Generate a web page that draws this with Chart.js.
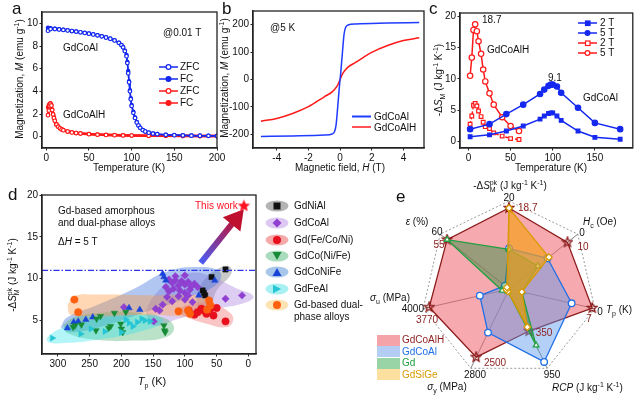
<!DOCTYPE html>
<html>
<head>
<meta charset="utf-8">
<script src="https://cdn.jsdelivr.net/npm/chart.js@4.4.1/dist/chart.umd.min.js"></script>
<style>
body{margin:0;background:#fff}
#fig{position:relative;width:638px;height:398px;overflow:hidden;font-family:'Liberation Sans',Arial,sans-serif;font-size:10px;color:#111}
#fig canvas{position:absolute}
.t,.tc,.tr,.vt,.lt{position:absolute;white-space:nowrap;line-height:1}
.t{transform:translateY(-50%)}
.tc{transform:translate(-50%,-50%)}
.tr{transform:translate(-100%,-50%)}
.vt{transform:translate(-50%,-50%) rotate(-90deg)}
.lt{font-size:17px}
sup,sub{font-size:7px;line-height:0}
svg{position:absolute}
</style>
</head>
<body>
<div id="fig">
  <canvas id="ca" width="235" height="185" style="left:0;top:0"></canvas>
  <canvas id="cb" width="225" height="185" style="left:215px;top:0"></canvas>
  <canvas id="cc" width="218" height="185" style="left:420px;top:0"></canvas>
  <canvas id="cd" width="276" height="210" style="left:0;top:180px"></canvas>
  <canvas id="ce" width="188" height="188" style="left:415px;top:195px"></canvas>
  <div id="txt"></div>
</div>
<script>
// ---------- panel a: M-T curves ----------
const aTempBlue = [2, 5, 10, 15, 20, 25, 30, 35, 40, 45, 50, 55, 60, 65, 70, 75, 80, 85, 88, 90, 92, 94, 95, 96, 97, 98, 99, 100, 102, 104, 106, 108, 110, 113, 116, 120, 125, 130, 140, 150, 160, 170, 180, 190, 200];
const aBlueFC  = [9.62, 9.58, 9.53, 9.48, 9.43, 9.38, 9.33, 9.28, 9.22, 9.16, 9.1, 9.03, 8.95, 8.86, 8.76, 8.65, 8.5, 8.3, 8.1, 7.9, 7.6, 7.2, 6.6, 5.8, 4.9, 4.1, 3.4, 2.8, 2.2, 1.7, 1.3, 1.0, 0.8, 0.6, 0.46, 0.36, 0.28, 0.23, 0.17, 0.14, 0.12, 0.1, 0.09, 0.08, 0.07];
const aBlueZFC = [9.35, 9.5, 9.5, 9.46, 9.42, 9.37, 9.32, 9.27, 9.21, 9.15, 9.09, 9.02, 8.94, 8.85, 8.75, 8.64, 8.49, 8.28, 8.08, 7.88, 7.55, 7.1, 6.5, 5.6, 4.8, 4.0, 3.3, 2.7, 2.1, 1.65, 1.25, 0.98, 0.78, 0.58, 0.45, 0.35, 0.27, 0.22, 0.16, 0.13, 0.11, 0.09, 0.08, 0.07, 0.06];
const aTempRed = [2, 3, 4, 5, 6, 7, 8, 9, 10, 12, 14, 16, 18, 20, 25, 30, 35, 40, 50, 60, 70, 80, 90, 100, 120, 140, 160, 180, 200];
const aRedFC   = [2.6, 2.8, 2.9, 2.95, 2.8, 2.4, 2.0, 1.7, 1.45, 1.1, 0.9, 0.75, 0.65, 0.58, 0.46, 0.38, 0.33, 0.29, 0.23, 0.19, 0.16, 0.14, 0.12, 0.11, 0.09, 0.08, 0.07, 0.06, 0.06];
const aRedZFC  = [1.9, 2.3, 2.7, 2.9, 2.75, 2.35, 1.95, 1.65, 1.4, 1.08, 0.88, 0.74, 0.64, 0.57, 0.45, 0.37, 0.32, 0.28, 0.22, 0.18, 0.15, 0.13, 0.11, 0.1, 0.08, 0.07, 0.06, 0.05, 0.05];

// ---------- panel b: M-H loops at 5 K ----------
const bFieldBlue = [-5, -3, -1, -0.5, -0.35, -0.25, -0.15, -0.05, 0.05, 0.15, 0.25, 0.35, 0.5, 1, 3, 5];
const bBlue      = [-208, -206, -203, -199, -190, -165, -100, -30, 30, 100, 165, 190, 199, 203, 206, 208];
const bFieldRed  = [-5, -4, -3, -2, -1, -0.5, -0.2, -0.1, 0, 0.1, 0.2, 0.5, 1, 2, 3, 4, 5];
const bRed       = [-152, -142, -124, -99, -63, -45, -25, -14, 0, 14, 25, 45, 63, 99, 124, 142, 152];

// ---------- panel c: -dS_M vs T ----------
const cTempH = [2, 4, 6, 8, 10, 12, 15, 17.5, 20, 25, 30, 40, 50, 60];
const cH5T   = [10.5, 13.4, 17.8, 18.7, 17.6, 16.0, 14.0, 11.5, 9.6, 7.7, 5.9, 3.9, 2.5, 1.7];
const cH2T   = [2.8, 4.1, 5.8, 6.1, 5.7, 4.9, 4.0, 3.1, 2.4, 2.1, 1.4, 0.9, 0.5, 0.35];
const cTempA = [2, 25, 45, 65, 85, 90, 95, 98, 100, 105, 110, 130, 150, 180];
const cA5T   = [2.0, 2.8, 4.4, 5.9, 7.6, 8.3, 8.9, 9.1, 9.1, 8.8, 7.8, 5.4, 3.0, 2.0];
const cA2T   = [0.8, 1.1, 1.7, 2.5, 3.6, 4.1, 4.5, 4.6, 4.6, 4.1, 3.4, 1.7, 0.7, 0.4];

// ---------- panel d: literature comparison, [Tp, -dS] ----------
const dGdNiAl = [[36, 11.1], [58, 10.2], [72, 8.6], [70, 8.3], [68, 8.0], [66, 6.2]];
const dGdCoAl = [[125, 9.9], [120, 9.5], [115, 9.8], [110, 9.2], [105, 9.7], [100, 9.3], [95, 9.6], [90, 9.1], [85, 9.4], [80, 9.0], [130, 9.0], [125, 8.5], [118, 8.8], [108, 8.6], [100, 8.3], [92, 8.7], [128, 7.8], [120, 7.3], [110, 7.9], [100, 7.5], [95, 8.0], [135, 6.9], [140, 6.2], [146, 6.4], [149, 4.9], [196, 6.6], [115, 10.3], [100, 10.4], [36, 7.6], [10, 8.0], [88, 7.2]];
const dGdFeCoNi = [[94, 6.2], [85, 5.7], [80, 6.0], [74, 6.4], [70, 6.2], [66, 5.8], [60, 6.4], [55, 5.6], [50, 6.5], [36, 4.9]];
const dGdCoNiFe2 = [[276, 4.2], [273, 4.4], [263, 4.5], [239, 5.2], [240, 3.8], [233, 5.5], [220, 4.1], [217, 4.3], [211, 5.9], [201, 4.6], [200, 4.0], [198, 3.6], [193, 6.0], [133, 4.4], [132, 3.8], [131, 3.6]];
const dGdCoNiFe = [[285, 4.1], [275, 4.8], [268, 4.9], [256, 5.1], [245, 5.4], [188, 6.5], [171, 6.3], [135, 10.6], [133, 10.2], [130, 9.8], [53, 9.8], [78, 8.0]];
const dGdFeAl = [[309, 2.9], [264, 3.4], [248, 4.0], [226, 3.7], [200, 3.6], [193, 5.1], [188, 4.7], [182, 4.3], [175, 4.8], [168, 5.2], [163, 5.0], [155, 4.9]];
const dDual = [[274, 7.5], [268, 6.0], [110, 6.1], [92, 5.8], [95, 6.2], [62, 7.4], [60, 6.8], [65, 6.3]];
const dThisWork = [[7, 18.7]];
const dLimit = [[325, 11.0], [-12, 11.0]];
const dArrow = [[75, 11.9], [20, 17.1]];
// shaded regions (outline vertices)
const rgnGdNiAl = [[82, 8.0], [70, 9.8], [45, 11.3], [30, 11.5], [27, 10.6], [50, 8.6], [62, 6.3], [78, 6.2], [82, 8.0]];
const rgnGdCoAl = [[162, 6.0], [150, 7.8], [120, 9.9], [90, 10.7], [60, 10.3], [20, 8.9], [-8, 7.9], [10, 7.0], [60, 6.3], [110, 5.2], [150, 4.4], [162, 6.0]];
const rgnGdFeCoNi = [[112, 6.3], [95, 6.9], [60, 7.0], [30, 6.0], [24, 5.0], [35, 4.2], [70, 4.7], [100, 5.5], [112, 6.3]];
const rgnGdCoNiFe2 = [[292, 4.5], [270, 5.5], [220, 6.0], [170, 5.9], [130, 5.2], [117, 4.1], [130, 3.0], [180, 2.6], [240, 2.7], [285, 3.5], [292, 4.5]];
const rgnGdCoNiFe = [[296, 4.2], [285, 5.4], [240, 6.8], [180, 8.8], [130, 10.8], [80, 11.4], [45, 10.8], [50, 9.3], [100, 7.6], [170, 5.8], [230, 4.3], [280, 3.6], [296, 4.2]];
const rgnGdFeAl = [[318, 2.9], [300, 3.9], [250, 5.0], [190, 5.6], [145, 5.5], [135, 4.8], [170, 3.7], [230, 2.8], [290, 2.3], [315, 2.4], [318, 2.9]];
const rgnDual = [[285, 6.8], [275, 7.9], [240, 8.1], [150, 8.0], [80, 8.0], [55, 7.3], [60, 6.0], [90, 5.5], [150, 5.7], [240, 5.6], [280, 5.7], [285, 6.8]];

// ---------- panel e: radar, radius fraction per axis ----------
const eAxes = ['-ΔS', 'Hc', 'Tp', 'RCP', 'σy', 'σu', 'ε'];
const eGdCoAlH = [0.92, 0.85, 0.97, 0.53, 0.86, 0.93, 0.90];
const eGdCoAl  = [0.46, 0.56, 0.73, 0.92, 0.55, 0.34, 0.06];
const eGd      = [0.45, 0.42, 0.15, 0.71, 0.03, 0.08, 0.90];
const eGdSiGe  = [0.92, 0.58, 0.15, 0.48, 0.03, 0.03, 0.03];

Chart.defaults.font.family = "'Liberation Sans', Arial, sans-serif";
Chart.defaults.font.size = 10;
Chart.defaults.color = '#111';

const BLUE = '#1428f0', RED = '#ff1a1a';

const frame = {
    id: 'frame',
    afterDraw(chart) {
        const {ctx, chartArea: a} = chart;
        ctx.save();
        ctx.strokeStyle = '#222';
        ctx.lineWidth = 1.3;
        ctx.strokeRect(a.left, a.top, a.right - a.left, a.bottom - a.top);
        ctx.restore();
    }
};

function lin(min, max, step, size, extra) {
    return Object.assign({
        type: 'linear', min, max,
        afterBuildTicks: ax => {
            const t = [];
            for (let v = Math.ceil(min / step - 1e-9) * step; v <= max + 1e-9; v += step) t.push({value: Math.round(v * 1e6) / 1e6});
            ax.ticks = t;
        },
        afterFit: s => { if (s.isHorizontal()) s.height = size; else s.width = size; },
        grid: {drawOnChartArea: false, tickLength: 2.5, color: '#222', lineWidth: 1},
        border: {color: '#222', width: 1.3},
        ticks: {color: '#111', padding: 1.5, maxRotation: 0, autoSkip: false}
    }, extra || {});
}

function opts(x, y, padding) {
    return {
        responsive: false, animation: false, devicePixelRatio: 1,
        layout: {padding},
        plugins: {legend: {display: false}, tooltip: {enabled: false}},
        scales: {x, y}
    };
}

const xy = (xs, ys) => xs.map((v, i) => ({x: v, y: ys[i]}));
const pairs = arr => arr.map(p => ({x: p[0], y: p[1]}));

function series(data, color, extra) {
    return Object.assign({data, showLine: true, borderColor: color, pointBorderColor: color,
        pointBackgroundColor: color, borderWidth: 1.5, pointRadius: 2.2, pointBorderWidth: 1.2, tension: 0}, extra || {});
}

// a
new Chart(document.getElementById('ca'), {
    type: 'scatter',
    data: {datasets: [
        series(xy(aTempBlue, aBlueZFC), BLUE, {pointBackgroundColor: '#fff', pointRadius: 1.8}),
        series(xy(aTempBlue, aBlueFC), BLUE, {pointRadius: 1.6}),
        series(xy(aTempRed, aRedZFC), RED, {pointBackgroundColor: '#fff', borderWidth: 2.5, pointRadius: 1.8}),
        series(xy(aTempRed, aRedFC), RED, {borderWidth: 2.5, pointRadius: 1.6})
    ]},
    options: opts(lin(-5, 200, 50, 37), lin(-1, 11, 2, 42), {top: 12, right: 18}),
    plugins: [frame]
});

// b
new Chart(document.getElementById('cb'), {
    type: 'scatter',
    data: {datasets: [
        series(xy(bFieldBlue, bBlue), '#1f3cff', {pointRadius: 0, cubicInterpolationMode: 'monotone'}),
        series(xy(bFieldRed, bRed), RED, {pointRadius: 0, cubicInterpolationMode: 'monotone'})
    ]},
    options: opts(lin(-5.5, 5.3, 2, 37), lin(-250, 250, 100, 38), {top: 11, right: 16}),
    plugins: [frame]
});

// c
new Chart(document.getElementById('cc'), {
    type: 'scatter',
    data: {datasets: [
        series(xy(cTempA, cA2T), BLUE, {pointStyle: 'rect', pointRadius: 2.6}),
        series(xy(cTempA, cA5T), BLUE, {pointRadius: 2.7}),
        series(xy(cTempH, cH2T), RED, {pointStyle: 'rect', pointRadius: 2.6, pointBackgroundColor: '#fff', borderDash: [3, 2]}),
        series(xy(cTempH, cH5T), RED, {pointRadius: 2.7, pointBackgroundColor: '#fff'})
    ]},
    options: opts(lin(-10, 195, 50, 37), lin(-1, 20.5, 5, 40), {top: 13, right: 2}),
    plugins: [frame]
});

// d
function makeStar(r, fill, stroke, lw) {
    const c = document.createElement('canvas');
    const s = Math.ceil(2 * r + 2);
    c.width = c.height = s;
    const g = c.getContext('2d');
    g.beginPath();
    for (let i = 0; i < 10; i++) {
        const rr = i % 2 ? r * 0.45 : r;
        const a = -Math.PI / 2 + i * Math.PI / 5;
        g.lineTo(s / 2 + rr * Math.cos(a), s / 2 + rr * Math.sin(a));
    }
    g.closePath();
    if (fill) { g.fillStyle = fill; g.fill(); }
    if (stroke) { g.strokeStyle = stroke; g.lineWidth = lw; g.stroke(); }
    return c;
}

function region(pts, color) {
    return {data: pairs(pts), showLine: true, fill: 'shape', backgroundColor: color,
        borderWidth: 0, pointRadius: 0, tension: 0.45, order: 10};
}
function marks(pts, color, style, rot) {
    return {data: pairs(pts), backgroundColor: color, borderColor: color, pointStyle: style,
        pointRadius: 3.7, pointRotation: rot || 0, borderWidth: 0.5, order: 5};
}

new Chart(document.getElementById('cd'), {
    type: 'scatter',
    data: {datasets: [
        region(rgnDual, 'rgba(255,150,60,0.38)'),
        region(rgnGdFeAl, 'rgba(40,225,235,0.35)'),
        region(rgnGdCoNiFe2, 'rgba(70,180,110,0.38)'),
        region(rgnGdCoNiFe, 'rgba(70,120,220,0.42)'),
        region(rgnGdCoAl, 'rgba(175,135,225,0.42)'),
        region(rgnGdFeCoNi, 'rgba(240,110,110,0.4)'),
        region(rgnGdNiAl, 'rgba(150,150,150,0.5)'),
        marks(dDual, '#ff6010', 'circle'),
        marks(dGdFeAl, '#25c5d5', 'triangle', 90),
        marks(dGdCoNiFe2, '#168a35', 'triangle', 180),
        marks(dGdCoNiFe, '#1a44d8', 'triangle'),
        marks(dGdCoAl, '#9040d0', 'rectRot'),
        marks(dGdFeCoNi, '#e8101c', 'circle'),
        marks(dGdNiAl, '#111', 'rect'),
        {data: pairs(dLimit), showLine: true, borderColor: '#2a35e8', borderWidth: 1.3,
         borderDash: [6, 2, 1.5, 2], pointRadius: 0, order: 2},
        {data: pairs(dArrow), showLine: true, borderWidth: 6, order: 1,
         borderColor: ctx => {
             const ch = ctx.chart;
             if (!ch.chartArea) return '#7040c0';
             const xs = ch.scales.x, ys = ch.scales.y;
             const g = ch.ctx.createLinearGradient(xs.getPixelForValue(dArrow[0][0]), ys.getPixelForValue(dArrow[0][1]),
                 xs.getPixelForValue(dArrow[1][0]), ys.getPixelForValue(dArrow[1][1]));
             g.addColorStop(0, '#4a5cf5');
             g.addColorStop(1, '#c01030');
             return g;
         },
         pointRadius: [0, 7], pointStyle: 'triangle', pointBackgroundColor: '#c01030', pointBorderColor: '#c01030',
         pointRotation: ctx => {
             const ch = ctx.chart, xs = ch.scales.x, ys = ch.scales.y;
             const dx = xs.getPixelForValue(dArrow[1][0]) - xs.getPixelForValue(dArrow[0][0]);
             const dy = ys.getPixelForValue(dArrow[1][1]) - ys.getPixelForValue(dArrow[0][1]);
             return Math.atan2(dx, -dy) * 180 / Math.PI;
         }},
        {data: pairs(dThisWork), pointStyle: makeStar(6.5, '#ff1020'), order: 0}
    ]},
    options: opts(lin(-12, 325, 50, 36, {reverse: true}), lin(1, 20, 5, 42), {top: 15, right: 20}),
    plugins: [frame]
});

// e
const starOpen = makeStar(5, null, '#8c1c1c', 1.4);
function radarSet(label, vals, line, fillc, style, ord) {
    return {label, data: vals, borderColor: line, backgroundColor: fillc, borderWidth: 1.3, fill: true,
        pointStyle: style, pointRadius: 3.3, pointBorderColor: line, pointBackgroundColor: '#fff',
        pointBorderWidth: 1.3, order: ord};
}
new Chart(document.getElementById('ce'), {
    type: 'radar',
    data: {labels: eAxes, datasets: [
        radarSet('GdCoAlH', eGdCoAlH, '#8c1c1c', 'rgba(238,100,110,0.55)', starOpen, 4),
        radarSet('GdCoAl', eGdCoAl, '#1f6fe8', 'rgba(90,150,235,0.45)', 'circle', 3),
        radarSet('Gd', eGd, '#22a040', 'rgba(40,140,60,0.45)', 'triangle', 2),
        radarSet('GdSiGe', eGdSiGe, '#d89a00', 'rgba(245,160,30,0.7)', 'rectRot', 1)
    ]},
    options: {
        responsive: false, animation: false, devicePixelRatio: 1,
        layout: {padding: 6},
        plugins: {legend: {display: false}, tooltip: {enabled: false}},
        elements: {line: {tension: 0}},
        scales: {r: {
            min: 0, max: 1,
            ticks: {display: false, stepSize: 1},
            pointLabels: {display: false},
            grid: {color: '#999', lineWidth: 1},
            border: {dash: [2, 2]},
            angleLines: {color: '#333', lineWidth: 0.6}
        }}
    }
});

// ---------- text, legends ----------
const dS = '-Δ<i>S</i><sub>M</sub><sup style="margin-left:-6px">pk</sup>';
function icon(x, y, color, shape, open, dash) {
    const f = open ? '#fff' : color;
    const m = shape === 'rect'
        ? `<rect x="7.5" y="2" width="4.5" height="4.5" fill="${f}" stroke="${color}" stroke-width="1.2"/>`
        : `<circle cx="9.5" cy="4" r="2.4" fill="${f}" stroke="${color}" stroke-width="1.2"/>`;
    return `<svg style="left:${x}px;top:${y - 4}px" width="19" height="8"><line x1="0" y1="4" x2="19" y2="4" stroke="${color}" stroke-width="1.5"${dash ? ' stroke-dasharray="3 2"' : ''}/>${m}</svg>`;
}
function ellIcon(y, color, marker) {
    return `<svg style="left:265px;top:${y - 6}px" width="24" height="12"><ellipse cx="12" cy="6" rx="11.5" ry="5.5" fill="${color}"/>${marker}</svg>`;
}
const T = (cls, x, y, html, style) => `<div class="${cls}" style="left:${x}px;top:${y}px;${style || ''}">${html}</div>`;

let h = '';
// panel letters
h += T('lt', 12, 0, 'a') + T('lt', 222, 0, 'b') + T('lt', 429, 0, 'c') + T('lt', 8, 186, 'd') + T('lt', 396, 188, 'e');
// a
h += T('vt', 20, 79, 'Magnetization, <i>M</i> (emu g<sup>-1</sup>)');
h += T('tc', 129, 168, 'Temperature (K)');
h += T('t', 163, 33, '@0.01 T') + T('t', 63, 48, 'GdCoAl') + T('t', 63, 115, 'GdCoAlH');
h += icon(159, 67, BLUE, 'circle', true) + T('t', 180, 67, 'ZFC');
h += icon(159, 79, BLUE, 'circle', false) + T('t', 180, 79, 'FC');
h += icon(159, 91, RED, 'circle', true) + T('t', 180, 91, 'ZFC');
h += icon(159, 103, RED, 'circle', false) + T('t', 180, 103, 'FC');
// b
h += T('vt', 225, 78, 'Magnetization, <i>M</i> (emu g<sup>-1</sup>)');
h += T('tc', 340, 168, 'Magnetic field, <i>H</i> (T)');
h += T('t', 270, 28, '@5 K');
h += `<svg style="left:352px;top:113px" width="19" height="16"><line x1="0" y1="3.5" x2="19" y2="3.5" stroke="#1f3cff" stroke-width="2"/><line x1="0" y1="14" x2="19" y2="14" stroke="${RED}" stroke-width="1.5"/></svg>`;
h += T('t', 374, 117, 'GdCoAl') + T('t', 374, 127.5, 'GdCoAlH');
// c
h += T('vt', 439, 80, '-Δ<i>S</i><sub>M</sub> (J kg<sup>-1</sup> K<sup>-1</sup>)');
h += T('tc', 551, 168, 'Temperature (K)');
h += T('t', 482, 20, '18.7') + T('t', 487, 50, 'GdCoAlH') + T('t', 548, 78, '9.1') + T('t', 583, 98, 'GdCoAl');
h += icon(578, 23, BLUE, 'rect', false) + T('t', 600, 23, '2 T');
h += icon(578, 33, BLUE, 'circle', false) + T('t', 600, 33, '5 T');
h += icon(578, 43, RED, 'rect', true) + T('t', 600, 43, '2 T');
h += icon(578, 53, RED, 'circle', true) + T('t', 600, 53, '5 T');
// d
h += T('vt', 13, 275, dS + ' (J kg<sup>-1</sup> K<sup>-1</sup>)');
h += T('tc', 152, 381, '<i>T</i><sub>p</sub> (K)', 'font-size:11px');
h += T('t', 58, 211, 'Gd-based amorphous') + T('t', 58, 223, 'and dual-phase alloys');
h += T('t', 58, 242, 'Δ<i>H</i> = 5 T');
h += T('t', 195, 206, 'This work', 'color:#ff1020');
h += ellIcon(206, '#b4b4b4', '<rect x="8.5" y="2.5" width="7" height="7" fill="#111"/>') + T('t', 294, 206, 'GdNiAl');
h += ellIcon(223, '#dcc8f2', '<polygon points="12,1.5 16.5,6 12,10.5 7.5,6" fill="#9040d0"/>') + T('t', 294, 223, 'GdCoAl');
h += ellIcon(239.5, '#f5aaaa', '<circle cx="12" cy="6" r="4" fill="#e8101c"/>') + T('t', 294, 239.5, 'Gd(Fe/Co/Ni)');
h += ellIcon(256, '#a9dcbc', '<polygon points="7.5,2 16.5,2 12,10" fill="#168a35"/>') + T('t', 294, 256, 'GdCo(Ni/Fe)');
h += ellIcon(272, '#a8c6ea', '<polygon points="7.5,10 16.5,10 12,2" fill="#1a44d8"/>') + T('t', 294, 272, 'GdCoNiFe');
h += ellIcon(288.5, '#a8f0f2', '<polygon points="8,1.8 16,6 8,10.2" fill="#25c5d5"/>') + T('t', 294, 288.5, 'GdFeAl');
h += ellIcon(305, '#fde2b4', '<circle cx="12" cy="6" r="4" fill="#ff6010"/>') + T('t', 294, 305, 'Gd-based dual-') + T('t', 294, 317, 'phase alloys');
// e
h += T('tc', 510, 186, dS + ' (J kg<sup>-1</sup> K<sup>-1</sup>)');
h += T('tc', 509, 198, '20') + T('t', 518, 208, '18.7', 'color:#8c1c1c');
h += T('t', 583, 222, '<i>H</i><sub>c</sub> (Oe)') + T('tc', 582, 233, '0') + T('tc', 583, 247, '10', 'color:#8c1c1c');
h += T('tc', 600, 312, '0') + T('t', 606, 310, '<i>T</i><sub>p</sub> (K)') + T('tc', 589, 319, '7', 'color:#8c1c1c');
h += T('tc', 544, 333, '350', 'color:#8c1c1c');
h += T('tc', 552, 375, '950') + T('t', 552, 388, '<i>RCP</i> (J kg<sup>-1</sup> K<sup>-1</sup>)');
h += T('tc', 495, 363, '2500', 'color:#8c1c1c') + T('tc', 475, 375, '2800') + T('tc', 447, 387, '<i>σ</i><sub>y</sub> (MPa)');
h += T('tr', 410, 298, '<i>σ</i><sub>u</sub> (MPa)') + T('tr', 424, 309, '4000') + T('tc', 427, 320, '3770', 'color:#8c1c1c');
h += T('tc', 417, 222, '<i>ε</i> (%)') + T('tc', 437, 232, '60') + T('tc', 439, 245, '55', 'color:#8c1c1c');
const eLeg = [['GdCoAlH', '#f4a4a8', '#8c1c1c'], ['GdCoAl', '#b4cdf2', '#1f6fe8'], ['Gd', '#98d4a6', '#22a040'], ['GdSiGe', '#fde0a0', '#d89a00']];
eLeg.forEach((l, i) => {
    const y = 340 + i * 11.6;
    h += `<svg style="left:377px;top:${y - 5.5}px" width="23" height="11"><rect width="23" height="11" fill="${l[1]}"/></svg>`;
    h += T('t', 402, y, l[0], 'color:' + l[2]);
});
document.getElementById('txt').innerHTML = h;
</script>
</body>
</html>
